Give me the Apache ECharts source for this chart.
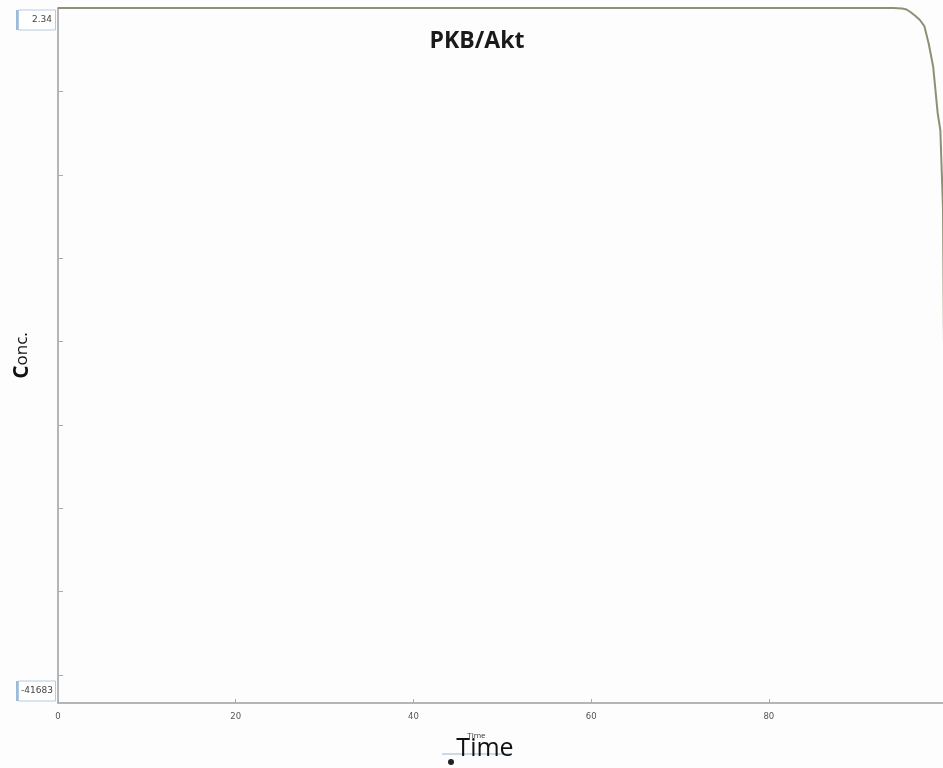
<!DOCTYPE html>
<html>
<head>
<meta charset="utf-8">
<script src="https://cdn.jsdelivr.net/npm/echarts@6/dist/echarts.min.js"></script>
<style>
  html, body { margin: 0; padding: 0; background: #fdfdfd; }
  #chart { width: 943px; height: 768px; }
</style>
</head>
<body>
<div id="chart"></div>
<script>
// Simulated PKB/Akt concentration over time
const time = [0, 20, 40, 60, 80, 90, 94, 95, 95.5, 96, 96.5, 97, 97.5, 98, 98.5, 99, 99.3, 99.6, 100];
const conc = [2.34, 2.34, 2.34, 2.34, 2.34, 2.34, 2.34, -30, -90, -270, -480, -718, -1080, -2160, -3540, -6300, -7320, -12000, -41683];

const xTickValues = [0, 20, 40, 60, 80];
const yTickValues = [0, -5000, -10000, -15000, -20000, -25000, -30000, -35000, -40000];
const yRangeLabels = [2.34, -41683];

const chart = echarts.init(document.getElementById('chart'));

const axisGray = '#b5b5b5';

chart.setOption({
  backgroundColor: '#fdfdfd',
  animation: false,
  title: {
    text: 'PKB/Akt',
    left: 472,
    top: 25,
    textAlign: 'center',
    textStyle: { fontFamily: 'Open Sans', fontWeight: 'bold', fontSize: 23, color: '#1a1a1a' }
  },
  grid: { left: 58, top: 8, right: 0, height: 695, containLabel: false },
  xAxis: {
    type: 'value',
    min: 0,
    max: 99.6,
    axisLine: { show: true, onZero: false, lineStyle: { color: axisGray, width: 2 } },
    axisTick: { show: true, inside: true, length: 4, customValues: xTickValues, lineStyle: { color: '#aaa' } },
    axisLabel: { customValues: xTickValues, margin: 9, fontFamily: 'DejaVu Sans', fontSize: 8.5, color: '#555' },
    splitLine: { show: false }
  },
  yAxis: {
    type: 'value',
    min: -41683,
    max: 2.34,
    name: '{c|C}{r|onc.}',
    nameLocation: 'middle',
    nameGap: 25,
    nameTextStyle: {
      rich: {
        c: { fontFamily: 'Open Sans', fontWeight: 'bold', fontSize: 21, color: '#111' },
        r: { fontFamily: 'Open Sans', fontSize: 17, color: '#111' }
      }
    },
    axisLine: { show: true, onZero: false, lineStyle: { color: axisGray, width: 2 } },
    axisTick: { show: true, inside: true, length: 5, customValues: yTickValues, lineStyle: { color: '#aaa' } },
    axisLabel: { show: false },
    splitLine: { show: false }
  },
  series: [{
    type: 'line',
    data: time.map((t, i) => [t, conc[i]]),
    showSymbol: false,
    smooth: false,
    clip: true,
    lineStyle: { color: '#8f8f76', width: 2 }
  }]
});

// Boxed range labels at the top and bottom of the value axis
const topY = chart.convertToPixel({ yAxisIndex: 0 }, yRangeLabels[0]);
const botY = chart.convertToPixel({ yAxisIndex: 0 }, yRangeLabels[1]);
const tickLabelX = chart.convertToPixel({ xAxisIndex: 0 }, 40);

function rangeBox(y, label, alignRight) {
  return [
    { type: 'rect', shape: { x: 16, y: y, width: 2.5, height: 20 }, style: { fill: '#9dbad6' } },
    { type: 'rect', shape: { x: 18.5, y: y, width: 37, height: 20 }, style: { fill: '#ffffff', stroke: '#b3cbe2', lineWidth: 1 } },
    {
      type: 'text',
      x: alignRight ? 52 : 21,
      y: y + 10,
      style: {
        text: label, fontFamily: 'DejaVu Sans', fontSize: 9, fill: '#444',
        align: alignRight ? 'right' : 'left', verticalAlign: 'middle'
      }
    }
  ];
}

chart.setOption({
  graphic: [
    ...rangeBox(topY + 2, String(yRangeLabels[0]), true),
    ...rangeBox(botY - 22, String(yRangeLabels[1]), false),
    {
      type: 'text', x: tickLabelX + 63, y: 736,
      style: { text: 'Time', fontFamily: 'Open Sans', fontSize: 8, fill: '#333', align: 'center', verticalAlign: 'middle' }
    },
    {
      type: 'line', shape: { x1: 442, y1: 754, x2: 512, y2: 754 },
      style: { stroke: '#b8cde2', lineWidth: 1.5 }
    },
    {
      type: 'text', x: 485, y: 749,
      style: { text: 'Time', fontFamily: 'Open Sans', fontSize: 25, fill: '#111', align: 'center', verticalAlign: 'middle' }
    },
    { type: 'circle', shape: { cx: 451, cy: 762, r: 3 }, style: { fill: '#222' } }
  ]
});
</script>
</body>
</html>
